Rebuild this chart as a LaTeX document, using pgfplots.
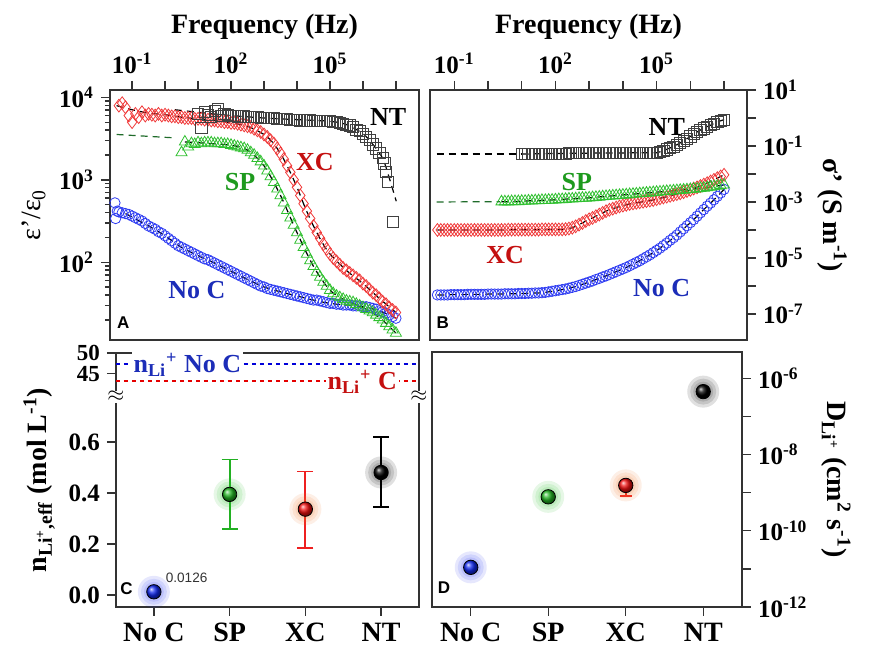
\documentclass[border=0pt]{standalone}
\usepackage{pgfplots}
\pgfplotsset{compat=1.18}
\usepackage{pgfplotstable}
\usepackage{fontspec}
\setmainfont{Liberation Serif}
\newfontfamily\lsans{Liberation Sans}
\definecolor{cblue}{HTML}{2E3CF2}
\definecolor{cred}{HTML}{F03A3A}
\definecolor{cgreen}{HTML}{30C030}
\definecolor{lblue}{HTML}{1C2DB8}
\definecolor{lred}{HTML}{C41010}
\definecolor{lgreen}{HTML}{1E9A1E}
\definecolor{dgreen}{HTML}{1F6B2A}
\definecolor{horange}{HTML}{F07A30}
\definecolor{bblue}{HTML}{1028F0}
\definecolor{bgreen}{HTML}{22B422}
\definecolor{bred}{HTML}{F01010}
\definecolor{egreen}{HTML}{22B022}
\definecolor{ered}{HTML}{EE2020}
\newcommand{\tp}[1]{10\textsuperscript{#1}}

% panel A: log10 f, log10 eps'/eps0
\pgfplotstableread[row sep=\\]{
x y\\
-1.52 2.72\\ -1.50 2.53\\ -1.45 2.62\\ -1.40 2.61\\ -1.30 2.60\\ -1.20 2.59\\ -1.10 2.58\\ -1.00 2.56\\ -0.90 2.54\\ -0.80 2.52\\
-0.70 2.50\\ -0.60 2.47\\ -0.50 2.44\\ -0.40 2.42\\ -0.30 2.40\\ -0.20 2.37\\ -0.10 2.35\\ 0.00 2.32\\ 0.10 2.29\\ 0.20 2.26\\
0.30 2.23\\ 0.40 2.20\\ 0.50 2.18\\ 0.60 2.16\\ 0.70 2.14\\ 0.80 2.12\\ 0.90 2.10\\ 1.00 2.08\\ 1.10 2.06\\ 1.20 2.04\\
1.30 2.03\\ 1.40 2.01\\ 1.50 1.99\\ 1.60 1.97\\ 1.70 1.95\\ 1.80 1.93\\ 1.90 1.91\\ 2.00 1.89\\ 2.10 1.87\\ 2.20 1.85\\
2.30 1.83\\ 2.40 1.81\\ 2.50 1.79\\ 2.60 1.77\\ 2.70 1.75\\ 2.80 1.73\\ 2.90 1.71\\ 3.00 1.70\\ 3.10 1.68\\ 3.20 1.67\\
3.30 1.66\\ 3.40 1.65\\ 3.50 1.64\\ 3.60 1.63\\ 3.70 1.62\\ 3.80 1.61\\ 3.90 1.60\\ 4.00 1.59\\ 4.10 1.58\\ 4.20 1.57\\
4.30 1.56\\ 4.40 1.55\\ 4.50 1.54\\ 4.60 1.54\\ 4.70 1.53\\ 4.80 1.52\\ 4.90 1.51\\ 5.00 1.50\\ 5.10 1.50\\ 5.20 1.49\\
5.30 1.49\\ 5.40 1.48\\ 5.50 1.48\\ 5.60 1.48\\ 5.70 1.47\\ 5.80 1.47\\ 5.90 1.47\\ 6.00 1.46\\ 6.10 1.46\\ 6.20 1.45\\
6.30 1.44\\ 6.40 1.43\\ 6.50 1.41\\ 6.60 1.40\\ 6.70 1.38\\ 6.80 1.36\\ 6.90 1.34\\ 7.00 1.32\\
}\aNoC
\pgfplotstableread[row sep=\\]{
x y\\
-1.40 3.90\\ -1.30 3.93\\ -1.20 3.88\\ -1.10 3.78\\ -1.00 3.70\\ -0.90 3.80\\ -0.80 3.76\\ -0.70 3.82\\ -0.60 3.78\\ -0.50 3.80\\
-0.40 3.79\\ -0.30 3.78\\ -0.20 3.80\\ -0.10 3.78\\ 0.00 3.79\\ 0.10 3.78\\ 0.20 3.77\\ 0.30 3.77\\ 0.40 3.76\\ 0.50 3.76\\
0.60 3.75\\ 0.70 3.75\\ 0.80 3.75\\ 0.90 3.74\\ 1.00 3.74\\ 1.10 3.74\\ 1.20 3.73\\ 1.30 3.73\\ 1.40 3.72\\ 1.50 3.72\\
1.60 3.71\\ 1.70 3.71\\ 1.80 3.70\\ 1.90 3.70\\ 2.00 3.69\\ 2.10 3.69\\ 2.20 3.68\\ 2.30 3.67\\ 2.40 3.66\\ 2.50 3.65\\
2.60 3.64\\ 2.70 3.62\\ 2.80 3.60\\ 2.90 3.58\\ 3.00 3.55\\ 3.10 3.52\\ 3.20 3.48\\ 3.30 3.44\\ 3.40 3.38\\ 3.50 3.32\\
3.60 3.25\\ 3.70 3.17\\ 3.80 3.09\\ 3.90 3.00\\ 4.00 2.91\\ 4.10 2.81\\ 4.20 2.71\\ 4.30 2.62\\ 4.40 2.53\\ 4.50 2.44\\
4.60 2.36\\ 4.70 2.29\\ 4.80 2.22\\ 4.90 2.16\\ 5.00 2.10\\ 5.10 2.05\\ 5.20 2.01\\ 5.30 1.97\\ 5.40 1.93\\ 5.50 1.90\\
5.60 1.87\\ 5.70 1.84\\ 5.80 1.81\\ 5.90 1.78\\ 6.00 1.74\\ 6.10 1.71\\ 6.20 1.67\\ 6.30 1.63\\ 6.40 1.60\\ 6.50 1.56\\
6.60 1.52\\ 6.70 1.49\\ 6.80 1.45\\ 6.90 1.42\\ 7.00 1.39\\
}\aXC
\pgfplotstableread[row sep=\\]{
x y\\
0.50 3.33\\ 0.60 3.46\\ 0.70 3.40\\ 0.80 3.44\\ 0.90 3.43\\ 1.00 3.45\\ 1.10 3.44\\ 1.20 3.45\\ 1.30 3.45\\ 1.40 3.45\\
1.50 3.44\\ 1.60 3.44\\ 1.70 3.44\\ 1.80 3.43\\ 1.90 3.43\\ 2.00 3.42\\ 2.10 3.41\\ 2.20 3.40\\ 2.30 3.39\\ 2.40 3.38\\
2.50 3.36\\ 2.60 3.33\\ 2.70 3.30\\ 2.80 3.26\\ 2.90 3.22\\ 3.00 3.17\\ 3.10 3.11\\ 3.20 3.04\\ 3.30 2.97\\ 3.40 2.89\\
3.50 2.81\\ 3.60 2.72\\ 3.70 2.63\\ 3.80 2.54\\ 3.90 2.45\\ 4.00 2.36\\ 4.10 2.27\\ 4.20 2.18\\ 4.30 2.10\\ 4.40 2.02\\
4.50 1.95\\ 4.60 1.88\\ 4.70 1.82\\ 4.80 1.76\\ 4.90 1.71\\ 5.00 1.66\\ 5.10 1.62\\ 5.20 1.59\\ 5.30 1.57\\ 5.40 1.55\\
5.50 1.53\\ 5.60 1.52\\ 5.70 1.51\\ 5.80 1.49\\ 5.90 1.47\\ 6.00 1.45\\ 6.10 1.43\\ 6.20 1.41\\ 6.30 1.39\\ 6.40 1.36\\
6.50 1.33\\ 6.60 1.30\\ 6.70 1.26\\ 6.80 1.22\\ 6.90 1.18\\ 7.00 1.14\\
}\aSP
\pgfplotstableread[row sep=\\]{
x y\\
1.00 3.80\\ 1.10 3.63\\ 1.20 3.82\\ 1.30 3.79\\ 1.40 3.76\\ 1.50 3.84\\ 1.60 3.86\\ 1.70 3.78\\ 1.80 3.80\\ 1.90 3.79\\
2.00 3.78\\ 2.10 3.78\\ 2.20 3.77\\ 2.30 3.77\\ 2.40 3.77\\ 2.50 3.76\\ 2.60 3.76\\ 2.70 3.76\\ 2.80 3.76\\ 2.90 3.75\\
3.00 3.75\\ 3.10 3.75\\ 3.20 3.75\\ 3.30 3.75\\ 3.40 3.74\\ 3.50 3.74\\ 3.60 3.74\\ 3.70 3.74\\ 3.80 3.73\\ 3.90 3.73\\
4.00 3.73\\ 4.10 3.72\\ 4.20 3.72\\ 4.30 3.72\\ 4.40 3.72\\ 4.50 3.71\\ 4.60 3.71\\ 4.70 3.71\\ 4.80 3.71\\ 4.90 3.71\\
5.00 3.71\\ 5.10 3.70\\ 5.20 3.70\\ 5.30 3.69\\ 5.40 3.68\\ 5.50 3.67\\ 5.60 3.66\\ 5.70 3.64\\ 5.80 3.61\\ 5.90 3.59\\
6.00 3.56\\ 6.10 3.52\\ 6.20 3.48\\ 6.30 3.43\\ 6.40 3.38\\ 6.50 3.33\\ 6.60 3.27\\ 6.65 3.20\\ 6.70 3.10\\ 6.76 2.97\\
6.91 2.49\\
}\aNT

% panel B: log10 f, log10 sigma'
\pgfplotstableread[row sep=\\]{
x y\\
-1.5 -6.32\\ -1.4 -6.32\\ -1.3 -6.32\\ -1.2 -6.32\\ -1.1 -6.31\\ -1.0 -6.31\\ -0.9 -6.31\\ -0.8 -6.31\\ -0.7 -6.31\\ -0.6 -6.30\\
-0.5 -6.30\\ -0.4 -6.30\\ -0.3 -6.30\\ -0.2 -6.30\\ -0.1 -6.30\\ 0.0 -6.29\\ 0.1 -6.29\\ 0.2 -6.29\\ 0.3 -6.29\\ 0.4 -6.29\\
0.5 -6.28\\ 0.6 -6.28\\ 0.7 -6.28\\ 0.8 -6.28\\ 0.9 -6.27\\ 1.0 -6.27\\ 1.1 -6.27\\ 1.2 -6.26\\ 1.3 -6.26\\ 1.4 -6.25\\
1.5 -6.25\\ 1.6 -6.24\\ 1.7 -6.23\\ 1.8 -6.21\\ 1.9 -6.19\\ 2.0 -6.17\\ 2.1 -6.15\\ 2.2 -6.13\\ 2.3 -6.11\\ 2.4 -6.08\\
2.5 -6.05\\ 2.6 -6.02\\ 2.7 -5.98\\ 2.8 -5.94\\ 2.9 -5.90\\ 3.0 -5.86\\ 3.1 -5.82\\ 3.2 -5.77\\ 3.3 -5.73\\ 3.4 -5.68\\
3.5 -5.64\\ 3.6 -5.59\\ 3.7 -5.54\\ 3.8 -5.49\\ 3.9 -5.44\\ 4.0 -5.39\\ 4.1 -5.34\\ 4.2 -5.28\\ 4.3 -5.22\\ 4.4 -5.16\\
4.5 -5.10\\ 4.6 -5.03\\ 4.7 -4.96\\ 4.8 -4.89\\ 4.9 -4.81\\ 5.0 -4.73\\ 5.1 -4.65\\ 5.2 -4.56\\ 5.3 -4.47\\ 5.4 -4.37\\
5.5 -4.28\\ 5.6 -4.18\\ 5.7 -4.07\\ 5.8 -3.96\\ 5.9 -3.85\\ 6.0 -3.74\\ 6.1 -3.63\\ 6.2 -3.51\\ 6.3 -3.39\\ 6.4 -3.27\\
6.5 -3.15\\ 6.6 -3.04\\ 6.7 -2.92\\ 6.8 -2.80\\ 6.9 -2.68\\ 7.0 -2.55\\
}\bNoC
\pgfplotstableread[row sep=\\]{
x y\\
-1.5 -4.00\\ -1.4 -4.00\\ -1.3 -4.00\\ -1.2 -4.00\\ -1.1 -4.00\\ -1.0 -4.00\\ -0.9 -4.00\\ -0.8 -4.00\\ -0.7 -4.00\\ -0.6 -4.00\\
-0.5 -4.00\\ -0.4 -4.00\\ -0.3 -4.00\\ -0.2 -4.00\\ -0.1 -4.00\\ 0.0 -4.00\\ 0.1 -4.00\\ 0.2 -4.00\\ 0.3 -4.00\\ 0.4 -4.00\\
0.5 -4.00\\ 0.6 -3.99\\ 0.7 -3.99\\ 0.8 -3.99\\ 0.9 -3.99\\ 1.0 -3.99\\ 1.1 -3.99\\ 1.2 -3.99\\ 1.3 -3.99\\ 1.4 -3.99\\
1.5 -3.99\\ 1.6 -3.98\\ 1.7 -3.98\\ 1.8 -3.98\\ 1.9 -3.98\\ 2.0 -3.98\\ 2.1 -3.98\\ 2.2 -3.98\\ 2.3 -3.97\\ 2.4 -3.95\\
2.5 -3.92\\ 2.6 -3.87\\ 2.7 -3.81\\ 2.8 -3.75\\ 2.9 -3.68\\ 3.0 -3.62\\ 3.1 -3.57\\ 3.2 -3.51\\ 3.3 -3.45\\ 3.4 -3.39\\
3.5 -3.33\\ 3.6 -3.28\\ 3.7 -3.24\\ 3.8 -3.20\\ 3.9 -3.16\\ 4.0 -3.13\\ 4.1 -3.10\\ 4.2 -3.07\\ 4.3 -3.05\\ 4.4 -3.03\\
4.5 -3.01\\ 4.6 -2.99\\ 4.7 -2.97\\ 4.8 -2.95\\ 4.9 -2.93\\ 5.0 -2.90\\ 5.1 -2.87\\ 5.2 -2.84\\ 5.3 -2.81\\ 5.4 -2.78\\
5.5 -2.75\\ 5.6 -2.72\\ 5.7 -2.69\\ 5.8 -2.65\\ 5.9 -2.61\\ 6.0 -2.57\\ 6.1 -2.52\\ 6.2 -2.48\\ 6.3 -2.43\\ 6.4 -2.38\\
6.5 -2.33\\ 6.6 -2.27\\ 6.7 -2.21\\ 6.8 -2.15\\ 6.9 -2.09\\ 7.0 -2.03\\
}\bXC
\pgfplotstableread[row sep=\\]{
x y\\
0.4 -2.99\\ 0.5 -2.99\\ 0.6 -2.99\\ 0.7 -2.98\\ 0.8 -2.98\\ 0.9 -2.98\\ 1.0 -2.97\\ 1.1 -2.97\\ 1.2 -2.96\\ 1.3 -2.96\\
1.4 -2.95\\ 1.5 -2.95\\ 1.6 -2.94\\ 1.7 -2.94\\ 1.8 -2.93\\ 1.9 -2.93\\ 2.0 -2.92\\ 2.1 -2.91\\ 2.2 -2.91\\ 2.3 -2.90\\
2.4 -2.89\\ 2.5 -2.89\\ 2.6 -2.88\\ 2.7 -2.87\\ 2.8 -2.86\\ 2.9 -2.86\\ 3.0 -2.85\\ 3.1 -2.84\\ 3.2 -2.83\\ 3.3 -2.82\\
3.4 -2.81\\ 3.5 -2.80\\ 3.6 -2.79\\ 3.7 -2.78\\ 3.8 -2.77\\ 3.9 -2.76\\ 4.0 -2.75\\ 4.1 -2.74\\ 4.2 -2.73\\ 4.3 -2.72\\
4.4 -2.71\\ 4.5 -2.70\\ 4.6 -2.69\\ 4.7 -2.68\\ 4.8 -2.67\\ 4.9 -2.66\\ 5.0 -2.65\\ 5.1 -2.64\\ 5.2 -2.63\\ 5.3 -2.62\\
5.4 -2.61\\ 5.5 -2.60\\ 5.6 -2.59\\ 5.7 -2.58\\ 5.8 -2.57\\ 5.9 -2.56\\ 6.0 -2.55\\ 6.1 -2.54\\ 6.2 -2.53\\ 6.3 -2.51\\
6.4 -2.50\\ 6.5 -2.48\\ 6.6 -2.47\\ 6.7 -2.45\\ 6.8 -2.43\\ 6.9 -2.41\\ 7.0 -2.39\\
}\bSP
\pgfplotstableread[row sep=\\]{
x y\\
1.0 -1.29\\ 1.1 -1.29\\ 1.2 -1.29\\ 1.3 -1.28\\ 1.4 -1.28\\ 1.5 -1.28\\ 1.6 -1.28\\ 1.7 -1.28\\ 1.8 -1.27\\ 1.9 -1.27\\
2.0 -1.27\\ 2.1 -1.27\\ 2.2 -1.27\\ 2.3 -1.27\\ 2.4 -1.26\\ 2.5 -1.26\\ 2.6 -1.26\\ 2.7 -1.26\\ 2.8 -1.26\\ 2.9 -1.26\\
3.0 -1.26\\ 3.1 -1.26\\ 3.2 -1.25\\ 3.3 -1.25\\ 3.4 -1.25\\ 3.5 -1.25\\ 3.6 -1.25\\ 3.7 -1.25\\ 3.8 -1.25\\ 3.9 -1.25\\
4.0 -1.25\\ 4.1 -1.25\\ 4.2 -1.24\\ 4.3 -1.24\\ 4.4 -1.24\\ 4.5 -1.24\\ 4.6 -1.24\\ 4.7 -1.24\\ 4.8 -1.24\\ 4.9 -1.24\\
5.0 -1.24\\ 5.1 -1.21\\ 5.2 -1.17\\ 5.3 -1.12\\ 5.4 -1.07\\ 5.5 -1.02\\ 5.6 -0.96\\ 5.7 -0.89\\ 5.8 -0.82\\ 5.9 -0.74\\
6.0 -0.66\\ 6.1 -0.58\\ 6.2 -0.50\\ 6.3 -0.43\\ 6.4 -0.37\\ 6.5 -0.31\\ 6.6 -0.26\\ 6.7 -0.20\\ 6.8 -0.15\\ 6.9 -0.10\\
7.0 -0.06\\
}\bNT

\pgfplotsset{
  panel/.style={scale only axis, clip=false,
    axis line style={line width=0.9pt, black!80},
    tick style={line width=0.7pt, black!80},
    tick align=outside, major tick length=4.5pt, minor tick length=2.5pt,
    ticklabel style={font=\fontsize{12.5}{14}\selectfont\bfseries},
    label style={font=\fontsize{14}{16}\selectfont\bfseries},
    /pgf/number format/assume math mode=true},
  fit/.style={black, line width=0.6pt, dash pattern=on 3.5pt off 2.5pt, mark=none},
  mNoC/.style={only marks, mark=o, cblue, mark size=2.6pt, line width=0.4pt},
  mXC/.style={only marks, mark=diamond, cred, mark size=3.2pt, line width=0.4pt},
  mSP/.style={only marks, mark=triangle, cgreen, mark size=3.2pt, line width=0.4pt},
  mNT/.style={only marks, mark=square, black!75, mark size=2.8pt, line width=0.4pt},
  halo/.style={only marks, mark=*, color=#1, mark options={draw opacity=0, fill=#1, fill opacity=0.12}},
  ebar/.style 2 args={color=#1, only marks, mark=none, line width=0.9pt,
    error bars/.cd, y dir=both, y explicit,
    error bar style={draw=#1, line width=0.9pt},
    error mark options={rotate=90, mark size=#2, draw=#1, line width=0.9pt}},
}
\tikzset{
  lab/.style={font=\fontsize{13}{15}\selectfont\bfseries},
  plab/.style={font=\fontsize{8.5}{10}\selectfont\lsans\bfseries},
}

\begin{document}
\begin{tikzpicture}
\path (0pt,0pt) rectangle (437.5pt,326pt);

% ---------------- A ----------------
\begin{axis}[panel, at={(55pt,156pt)}, width=154.5pt, height=125pt,
  xmin=-1.67, xmax=7.7, ymin=1.056, ymax=4.09,
  xtick={-1,0,1,2,3,4,5,6,7}, xticklabels={\tp{-1},,,\tp{2},,,\tp{5},,},
  xtick pos=right, xticklabel pos=right,
  ytick={2,3,4}, yticklabels={\tp{2},\tp{3},\tp{4}}, ytick pos=left,
  minor ytick={1.301,1.477,1.602,1.699,1.778,1.845,1.903,1.954,
    2.301,2.477,2.602,2.699,2.778,2.845,2.903,2.954,
    3.301,3.477,3.602,3.699,3.778,3.845,3.903,3.954},
  xlabel={Frequency (Hz)},
  ylabel={\mdseries ε'/ε\textsubscript{0}}]
\addplot[mNoC] table {\aNoC};
\addplot[mSP] table {\aSP};
\addplot[mXC] table {\aXC};
\addplot[mNT] table {\aNT};
\addplot[fit, smooth] coordinates {(-1.2,2.59)(-0.5,2.44)(0,2.32)(0.5,2.18)(1,2.08)(1.5,1.99)(2,1.89)(2.5,1.79)(3,1.70)(3.5,1.64)(4,1.59)(4.5,1.54)(5,1.50)(5.5,1.48)(6,1.46)(6.5,1.41)(7,1.32)};
\addplot[fit, smooth] coordinates {(-1.47,3.90)(-1,3.85)(-0.5,3.81)(0,3.79)(0.5,3.76)(1,3.74)(1.5,3.72)(2,3.69)(2.5,3.65)(3,3.55)(3.25,3.46)(3.5,3.32)(3.75,3.13)(4,2.91)(4.25,2.66)(4.5,2.44)(4.75,2.25)(5,2.10)(5.5,1.90)(6,1.74)(6.5,1.56)(7,1.39)};
\addplot[fit, dgreen] coordinates {(-1.47,3.55)(0.24,3.51)};
\addplot[fit, smooth] coordinates {(0.6,3.46)(1,3.45)(2,3.42)(2.5,3.36)(3,3.17)(3.5,2.81)(4,2.36)(4.5,1.95)(5,1.66)(5.5,1.53)(6,1.45)(6.5,1.33)(7,1.14)};
\addplot[fit, smooth] coordinates {(0.3,3.85)(1,3.82)(2,3.78)(3,3.75)(4,3.73)(5,3.71)(5.5,3.67)(6,3.56)(6.3,3.43)(6.6,3.26)(6.8,3.02)(7.01,2.74)};
\node[lab] at (rel axis cs:0.900,0.892) {NT};
\node[lab, lred] at (rel axis cs:0.663,0.713) {XC};
\node[lab, lgreen] at (rel axis cs:0.421,0.633) {SP};
\node[lab, lblue] at (rel axis cs:0.281,0.200) {No C};
\node[plab] at (rel axis cs:0.043,0.069) {A};
\end{axis}

% ---------------- B ----------------
\begin{axis}[panel, at={(215pt,156pt)}, width=158.5pt, height=125pt,
  xmin=-1.72, xmax=7.68, ymin=-7.93, ymax=1,
  xtick={-1,0,1,2,3,4,5,6,7}, xticklabels={\tp{-1},,,\tp{2},,,\tp{5},,},
  xtick pos=right, xticklabel pos=right,
  ytick={-7,-6,-5,-4,-3,-2,-1,0,1},
  yticklabels={\tp{-7},,\tp{-5},,\tp{-3},,\tp{-1},,\tp{1}},
  ytick pos=right, yticklabel pos=right,
  xlabel={Frequency (Hz)},
  ylabel={σ' (S m\textsuperscript{-1})}, ylabel style={rotate=180}]
\addplot[mNoC] table {\bNoC};
\addplot[mXC] table {\bXC};
\addplot[mSP] table {\bSP};
\addplot[mNT] table {\bNT};
\addplot[fit] table {\bNoC};
\addplot[fit] table {\bXC};
\addplot[fit] table {\bSP};
\addplot[fit, dgreen] coordinates {(-1.52,-3.00)(0.35,-2.99)};
\addplot[fit] coordinates {(-1.52,-1.29)(1.0,-1.29)};
\addplot[fit] table {\bNT};
\node[lab] at (rel axis cs:0.747,0.853) {NT};
\node[lab, lgreen] at (rel axis cs:0.463,0.633) {SP};
\node[lab, lred] at (rel axis cs:0.237,0.340) {XC};
\node[lab, lblue] at (rel axis cs:0.731,0.207) {No C};
\node[plab] at (rel axis cs:0.040,0.069) {B};
\end{axis}

% ---------------- C ----------------
\begin{axis}[panel, at={(58pt,22.5pt)}, width=151.5pt, height=127pt,
  xmin=-0.5, xmax=3.5, ymin=-0.047, ymax=0.95,
  xtick={0,1,2,3}, xticklabels={No C,SP,XC,NT}, xtick pos=left,
  xticklabel style={font=\fontsize{14}{16}\selectfont\bfseries},
  ytick={0,0.2,0.4,0.6,0.869,0.95},
  yticklabels={0.0,0.2,0.4,0.6,{\fontsize{11.5}{11.5}\selectfont 45},{\fontsize{11.5}{11.5}\selectfont 50}},
  ytick pos=left,
  ylabel={n\textsubscript{Li\textsuperscript{+},eff} (mol L\textsuperscript{-1})}]
% reference lines: 47.3 and 43.2 mol/L on the upper (broken) scale
\addplot[blue!85!black, line width=0.8pt, dash pattern=on 2pt off 2pt] coordinates {(-0.5,0.906)(3.5,0.906)};
\addplot[red!90!black, line width=0.8pt, dash pattern=on 2pt off 2pt] coordinates {(-0.5,0.840)(3.5,0.840)};
\node[lab, lblue, fill=white, inner sep=1pt, anchor=west] at (rel axis cs:0.05,0.952) {n\textsubscript{Li}\textsuperscript{+} No C};
\node[lab, lred, fill=white, inner sep=1pt, anchor=east] at (rel axis cs:0.935,0.886) {n\textsubscript{Li}\textsuperscript{+} C};
\node[fill=white, inner sep=0.3pt, font=\fontsize{11}{11}\selectfont] at (rel axis cs:0,0.828) {$\approx$};
\node[fill=white, inner sep=0.3pt, font=\fontsize{11}{11}\selectfont] at (rel axis cs:1,0.828) {$\approx$};
% halos
\addplot[halo=cblue, mark size=8pt] coordinates {(0,0.0126)};
\addplot[halo=cblue, mark size=6.5pt] coordinates {(0,0.0126)};
\addplot[halo=cblue, mark size=5pt] coordinates {(0,0.0126)};
\addplot[halo=cgreen, mark size=8pt] coordinates {(1,0.395)};
\addplot[halo=cgreen, mark size=6.5pt] coordinates {(1,0.395)};
\addplot[halo=cgreen, mark size=5pt] coordinates {(1,0.395)};
\addplot[halo=horange, mark size=8pt] coordinates {(2,0.337)};
\addplot[halo=horange, mark size=6.5pt] coordinates {(2,0.337)};
\addplot[halo=horange, mark size=5pt] coordinates {(2,0.337)};
\addplot[halo=black, mark size=8pt] coordinates {(3,0.481)};
\addplot[halo=black, mark size=6.5pt] coordinates {(3,0.481)};
\addplot[halo=black, mark size=5pt] coordinates {(3,0.481)};
% error bars
\addplot[ebar={egreen}{4pt}] coordinates {(1,0.395) += (0,0.137) -= (0,0.135)};
\addplot[ebar={ered}{4pt}] coordinates {(2,0.337) += (0,0.148) -= (0,0.152)};
\addplot[ebar={black}{4pt}] coordinates {(3,0.481) += (0,0.140) -= (0,0.136)};
% balls
\addplot[only marks, mark=ball, ball color=bblue, mark size=3.6pt] coordinates {(0,0.0126)};
\addplot[only marks, mark=ball, ball color=bgreen, mark size=3.6pt] coordinates {(1,0.395)};
\addplot[only marks, mark=ball, ball color=bred, mark size=3.6pt] coordinates {(2,0.337)};
\addplot[only marks, mark=ball, ball color=black, mark size=3.6pt] coordinates {(3,0.481)};
\node[font=\fontsize{6.8}{8}\selectfont\lsans, black!80] at (rel axis cs:0.233,0.113) {0.0126};
\node[plab] at (rel axis cs:0.035,0.074) {C};
\end{axis}

% ---------------- D ----------------
\begin{axis}[panel, at={(216pt,22.5pt)}, width=155pt, height=127.5pt,
  xmin=-0.5, xmax=3.5, ymin=-12, ymax=-5.31,
  xtick={0,1,2,3}, xticklabels={No C,SP,XC,NT}, xtick pos=left,
  xticklabel style={font=\fontsize{14}{16}\selectfont\bfseries},
  ytick={-12,-11,-10,-9,-8,-7,-6},
  yticklabels={\tp{-12},,\tp{-10},,\tp{-8},,\tp{-6}},
  ytick pos=right, yticklabel pos=right,
  ylabel={D\textsubscript{Li\textsuperscript{+}} (cm\textsuperscript{2} s\textsuperscript{-1})},
  ylabel style={rotate=180}]
\addplot[halo=cblue, mark size=8pt] coordinates {(0,-10.96)};
\addplot[halo=cblue, mark size=6.5pt] coordinates {(0,-10.96)};
\addplot[halo=cblue, mark size=5pt] coordinates {(0,-10.96)};
\addplot[halo=cgreen, mark size=8pt] coordinates {(1,-9.11)};
\addplot[halo=cgreen, mark size=6.5pt] coordinates {(1,-9.11)};
\addplot[halo=cgreen, mark size=5pt] coordinates {(1,-9.11)};
\addplot[halo=horange, mark size=8pt] coordinates {(2,-8.81)};
\addplot[halo=horange, mark size=6.5pt] coordinates {(2,-8.81)};
\addplot[halo=horange, mark size=5pt] coordinates {(2,-8.81)};
\addplot[halo=black, mark size=8pt] coordinates {(3,-6.35)};
\addplot[halo=black, mark size=6.5pt] coordinates {(3,-6.35)};
\addplot[halo=black, mark size=5pt] coordinates {(3,-6.35)};
\addplot[ebar={bblue}{3pt}] coordinates {(0,-10.96) +- (0,0.05)};
\addplot[ebar={egreen}{3pt}] coordinates {(1,-9.11) +- (0,0.10)};
\addplot[ebar={ered}{3pt}] coordinates {(2,-8.81) += (0,0.13) -= (0,0.28)};
\addplot[ebar={black}{3pt}] coordinates {(3,-6.35) +- (0,0.06)};
\addplot[only marks, mark=ball, ball color=bblue, mark size=3.6pt] coordinates {(0,-10.96)};
\addplot[only marks, mark=ball, ball color=bgreen, mark size=3.6pt] coordinates {(1,-9.11)};
\addplot[only marks, mark=ball, ball color=bred, mark size=3.6pt] coordinates {(2,-8.81)};
\addplot[only marks, mark=ball, ball color=black, mark size=3.6pt] coordinates {(3,-6.35)};
\node[plab] at (rel axis cs:0.039,0.076) {D};
\end{axis}
\end{tikzpicture}
\end{document}
